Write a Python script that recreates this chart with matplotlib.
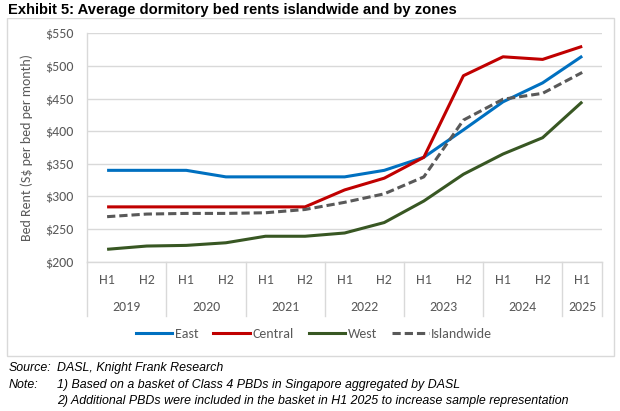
import numpy as np
import matplotlib
matplotlib.use("Agg")
import matplotlib.pyplot as plt
from matplotlib.lines import Line2D
from matplotlib.patches import Rectangle
import matplotlib.transforms as mtransforms

# =========================
# DATA
# =========================
halves = ["H1", "H2", "H1", "H2", "H1", "H2", "H1", "H2", "H1", "H2", "H1", "H2", "H1"]
years = ["2019", "2020", "2021", "2022", "2023", "2024", "2025"]
year_spans = [2, 2, 2, 2, 2, 2, 1]

east = [340, 340, 340, 330, 330, 330, 330, 340, 360, 402, 445, 474, 515]
central = [284, 284, 284, 284, 284, 284, 310, 328, 360, 485, 514, 510, 530]
west = [219, 224, 225, 229, 239, 239, 244, 260, 293, 334, 365, 390, 445]
islandwide = [269, 273, 274, 274, 275, 280, 291, 304, 330, 417, 449, 458, 490]

yticks = [200, 250, 300, 350, 400, 450, 500, 550]

# =========================
# STYLE
# =========================
W, H = 620, 411
tick_font = ["Carlito", "Lato", "DejaVu Sans"]
grey_txt = "#595959"
grid_c = "#D9D9D9"


def fx(x):
    return x / W


def fy(y):
    return 1 - y / H


fig = plt.figure(figsize=(6.2, 4.11), dpi=100)
ax = fig.add_axes([fx(87.3), fy(261.7), fx(602 - 87.3), (261.7 - 33.3) / H])

x = np.arange(len(halves))
lw = 2.2
ax.plot(x, east, color="#0070C0", lw=lw, solid_capstyle="butt", zorder=3)
ax.plot(x, central, color="#C00000", lw=lw, solid_capstyle="butt", zorder=3)
ax.plot(x, west, color="#385723", lw=lw, solid_capstyle="butt", zorder=3)
ax.plot(x, islandwide, color="#595959", lw=lw, ls=(0, (2.7, 1.3)),
        dash_capstyle="butt", zorder=3)

ax.set_xlim(-0.5, len(halves) - 0.5)
ax.set_ylim(200, 550)
ax.set_yticks(yticks)
ax.set_yticklabels([f"${v}" for v in yticks], family=tick_font, fontsize=10, color=grey_txt)
ax.tick_params(axis="y", length=0, pad=10)
ax.set_xticks([])
ax.grid(axis="y", color=grid_c, lw=1)
ax.set_axisbelow(True)
for s in ["top", "right"]:
    ax.spines[s].set_visible(False)
ax.spines["left"].set_color(grid_c)
ax.spines["bottom"].set_color(grid_c)
ax.spines["left"].set_linewidth(1)
ax.spines["bottom"].set_linewidth(1)

# multi-level category axis
trans = mtransforms.blended_transform_factory(ax.transData, ax.transAxes)
for i, h in enumerate(halves):
    ax.text(i, -0.080, h, transform=trans, ha="center", va="center",
            family=tick_font, fontsize=10, color=grey_txt, clip_on=False)

edge = -0.5
bounds = [edge]
for yr, span in zip(years, year_spans):
    ax.text(edge + span / 2, -0.197, yr, transform=trans, ha="center", va="center",
            family=tick_font, fontsize=10, color=grey_txt, clip_on=False)
    edge += span
    bounds.append(edge)
for b in bounds:
    ax.add_line(Line2D([b, b], [0, -0.2364], transform=trans, color=grid_c,
                       lw=1, clip_on=False))

ax.set_ylabel("Bed Rent (S$ per bed per month)", family=tick_font, fontsize=10,
              color=grey_txt)
ax.yaxis.set_label_coords((32.7 - 87.3) / (602 - 87.3), 0.5)

# legend
handles = [
    Line2D([], [], color="#0070C0", lw=lw),
    Line2D([], [], color="#C00000", lw=lw),
    Line2D([], [], color="#385723", lw=lw),
    Line2D([], [], color="#595959", lw=lw, ls=(0, (2.7, 1.3))),
]
fig.legend(handles, ["East", "Central", "West", "Islandwide"], loc="center",
           bbox_to_anchor=(fx(314), fy(334.3)), ncol=4, frameon=False,
           prop={"family": tick_font, "size": 10}, labelcolor=grey_txt,
           handlelength=2.6, handletextpad=0.2, columnspacing=1.1)

# chart border
fig.patches.append(Rectangle((fx(7.3), fy(355.7)), fx(614 - 7.3), (355.7 - 18) / H,
                             transform=fig.transFigure, fill=False,
                             edgecolor=grid_c, lw=1))

# title
fig.text(fx(8), fy(10), "Exhibit 5: Average dormitory bed rents islandwide and by zones",
         family=["Liberation Sans", "DejaVu Sans"], fontweight="bold", fontsize=10.6,
         ha="left", va="center", color="black",
         bbox=dict(facecolor="white", edgecolor="none", pad=1))

# source / notes
note_font = ["Liberation Sans", "DejaVu Sans"]
fs = 8.9
fig.text(fx(9), fy(368.3), "Source:", family=note_font, style="italic", fontsize=fs, va="center")
fig.text(fx(56.7), fy(368.3), "DASL, Knight Frank Research", family=note_font,
         style="italic", fontsize=fs, va="center")
fig.text(fx(9), fy(385), "Note:", family=note_font, style="italic", fontsize=fs, va="center")
fig.text(fx(57), fy(385), "1) Based on a basket of Class 4 PBDs in Singapore aggregated by DASL",
         family=note_font, style="italic", fontsize=fs, va="center")
fig.text(fx(57), fy(400.7),
         "2) Additional PBDs were included in the basket in H1 2025 to increase sample representation",
         family=note_font, style="italic", fontsize=fs, va="center")

fig.savefig("out.png", dpi=100, facecolor="white")
